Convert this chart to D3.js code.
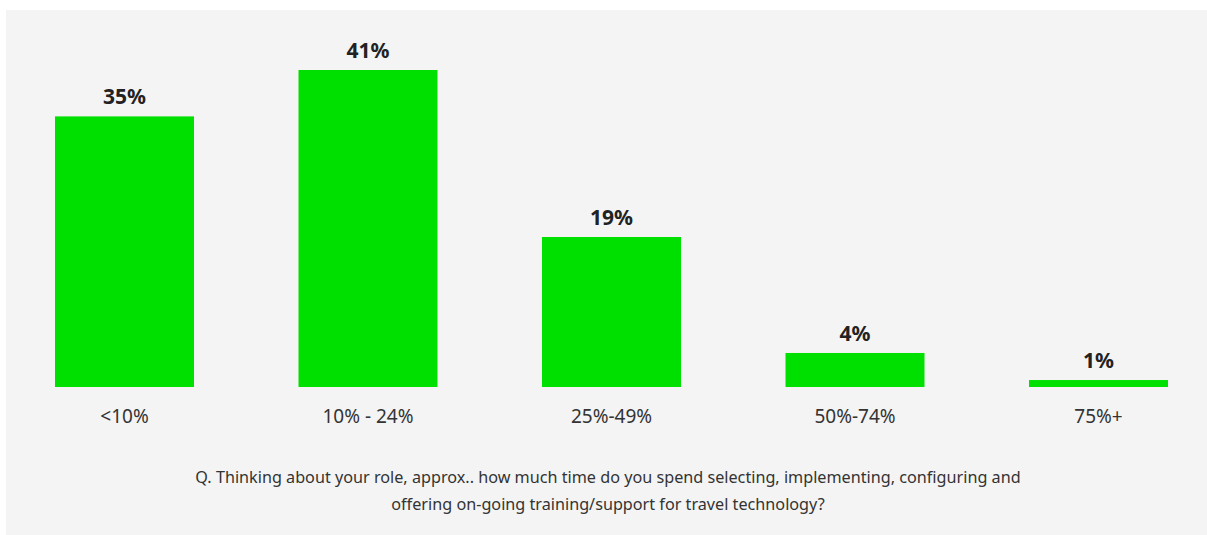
<!DOCTYPE html>
<html>
<head>
<meta charset="utf-8">
<script src="https://cdn.jsdelivr.net/npm/d3@7"></script>
<style>
	body{margin:0;background:#fff;font-family:"Noto Sans",sans-serif;}
</style>
</head>
<body>
<div id="chart"></div>
<script>
var categories=["<10%","10% - 24%","25%-49%","50%-74%","75%+"],
	values=[35,41,19.4,4.4,0.9],
	caption=["Q. Thinking about your role, approx.. how much time do you spend selecting, implementing, configuring and",
		"offering on-going training/support for travel technology?"];

var WIDTH=1207,
	HEIGHT=535;

var svg=d3.select("#chart")
			.append("svg")
				.attr("width",WIDTH)
				.attr("height",HEIGHT);

svg.append("rect")
	.attr("x",6)
	.attr("y",10)
	.attr("width",WIDTH-6)
	.attr("height",HEIGHT-10)
	.attr("fill","#f4f4f4");

// bar centres
var xscale=d3.scalePoint()
		.domain(categories)
		.range([124.5,1098.5]);

// baseline at 387, 41% reaches 70
var yscale=d3.scaleLinear()
		.domain([0,41])
		.range([387,70]);

var bw=139;

var bars=svg.append("g").selectAll("g")
			.data(values)
			.enter()
				.append("g")
					.attr("transform",function(d,i){
						return "translate("+xscale(categories[i])+",0)";
					});

bars.append("rect")
	.attr("x",-bw/2)
	.attr("width",bw)
	.attr("y",function(d){ return yscale(d); })
	.attr("height",function(d){ return yscale(0)-yscale(d); })
	.attr("fill","#00e000");

bars.append("text")
	.attr("y",function(d){ return yscale(d)-12; })
	.attr("text-anchor","middle")
	.attr("font-size",21)
	.attr("font-weight","bold")
	.attr("fill","#222")
	.text(function(d){ return Math.round(d)+"%"; });

bars.append("text")
	.attr("y",423)
	.attr("text-anchor","middle")
	.attr("font-size",19)
	.attr("fill","#333")
	.text(function(d,i){ return categories[i]; });

svg.append("g").selectAll("text")
	.data(caption)
	.enter()
		.append("text")
			.attr("x",608)
			.attr("y",function(d,i){ return 483+i*27; })
			.attr("text-anchor","middle")
			.attr("font-size",16.2)
			.attr("fill","#333")
			.text(function(d){ return d; });
</script>
</body>
</html>
